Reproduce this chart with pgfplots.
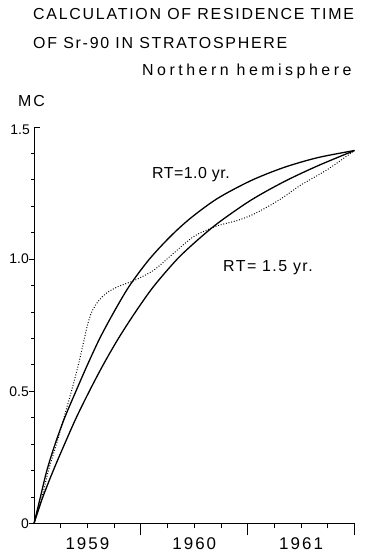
\documentclass[border=0pt]{standalone}
\usepackage{fontspec}
\setmainfont{Liberation Sans}
\newfontfamily\wide[LetterSpace=11]{Liberation Sans}
\newfontfamily\wider[LetterSpace=22]{Liberation Sans}
\newfontfamily\mcfont[LetterSpace=12]{Liberation Sans}
\newfontfamily\rtfont[LetterSpace=3]{Liberation Sans}
\newfontfamily\rtfontb[LetterSpace=9]{Liberation Sans}
\newfontfamily\yearfont[LetterSpace=12]{Liberation Sans}
\usepackage{pgfplots}
\pgfplotsset{compat=1.18}
\begin{document}
\begin{tikzpicture}
\begin{axis}[
  scale only axis, width=320.5bp, height=396.5bp,
  xmin=1959, xmax=1962, ymin=0, ymax=1.5,
  axis x line*=bottom, axis y line*=left,
  axis line style={-, line width=0.9bp, black},
  tick align=outside,
  major tick length=5bp, minor tick length=3bp,
  tick style={black, line width=0.8bp},
  xtick={1959.25,1959.5,1959.75,1960.25,1960.5,1960.75,1961.25,1961.5,1961.75},
  xticklabels={,1959,,,1960,,,1961,},
  extra x ticks={1960,1961,1962},
  extra x tick labels={},
  extra x tick style={major tick length=12bp},
  ytick={0,0.5,1},
  yticklabels={0,0.5,1.0},
  minor ytick={0.1,0.2,0.3,0.4,0.6,0.7,0.8,0.9,1.1,1.2,1.3,1.4},
  extra y ticks={1.5}, extra y tick labels={1.5},
  extra y tick style={tick align=inside, major tick length=6bp, yticklabel style={xshift=-4bp, yshift=-3bp}},
  xticklabel style={font=\fontsize{17}{20}\yearfont, anchor=north, inner sep=0pt, yshift=-9bp},
  yticklabel style={font=\fontsize{14}{16}\selectfont, anchor=east, inner sep=0pt},
  clip=false,
]
% RT = 1.0 yr
\addplot[black, line width=1.3bp, smooth] coordinates {
(1959.0,0) (1959.06,0.1) (1959.12,0.2) (1959.197,0.3) (1959.287,0.4) (1959.392,0.5) (1959.50,0.6) (1959.615,0.7) (1959.748,0.8) (1959.895,0.9) (1960.08,1.0) (1960.277,1.086) (1960.465,1.155) (1960.715,1.229) (1961.03,1.297) (1961.34,1.347) (1961.655,1.384) (1962.0,1.411)
};
% RT = 1.5 yr
\addplot[black, line width=1.3bp, smooth] coordinates {
(1959.0,0) (1959.08,0.097) (1959.18,0.2) (1959.29,0.304) (1959.40,0.404) (1959.526,0.507) (1959.65,0.602) (1959.79,0.7) (1959.948,0.799) (1960.12,0.897) (1960.34,1.0) (1960.53,1.072) (1960.73,1.139) (1961.03,1.223) (1961.34,1.293) (1961.655,1.353) (1962.0,1.411)
};
% observed (dotted)
\addplot[black, line width=1bp, dash pattern=on 0.9bp off 1.8bp, smooth] coordinates {
(1959.0,0) (1959.075,0.1) (1959.135,0.2) (1959.21,0.3) (1959.28,0.4) (1959.35,0.5) (1959.415,0.6) (1959.472,0.7) (1959.50,0.75) (1959.54,0.8) (1959.60,0.84) (1959.68,0.872) (1959.78,0.895) (1959.87,0.909) (1959.948,0.921) (1960.12,0.958) (1960.277,1.012) (1960.434,1.067) (1960.53,1.094) (1960.715,1.126) (1960.90,1.146) (1961.05,1.169) (1961.216,1.205) (1961.34,1.236) (1961.50,1.281) (1961.75,1.34) (1962.0,1.411)
};
\end{axis}
\node[anchor=base west, inner sep=0pt] at (-1bp,503.5bp) {\fontsize{16}{19}\wide CALCULATION OF RESIDENCE TIME};
\node[anchor=base west, inner sep=0pt] at (-1bp,474.5bp) {\fontsize{16}{19}\wide OF Sr-90 IN STRATOSPHERE};
\node[anchor=base west, inner sep=0pt] at (108bp,447.5bp) {\fontsize{16}{19}\wider Northern hemisphere};
\node[anchor=base west, inner sep=0pt] at (-16bp,416.5bp) {\fontsize{16}{19}\mcfont MC};
\node[anchor=base west, inner sep=0pt] at (118bp,344.5bp) {\fontsize{16}{19}\rtfont RT=1.0 yr.};
\node[anchor=base west, inner sep=0pt] at (189bp,251.8bp) {\fontsize{16}{19}\rtfontb RT= 1.5 yr.};
\pgfresetboundingbox
\useasboundingbox (-34bp,-31.5bp) rectangle (341bp,523.5bp);
\end{tikzpicture}
\end{document}
